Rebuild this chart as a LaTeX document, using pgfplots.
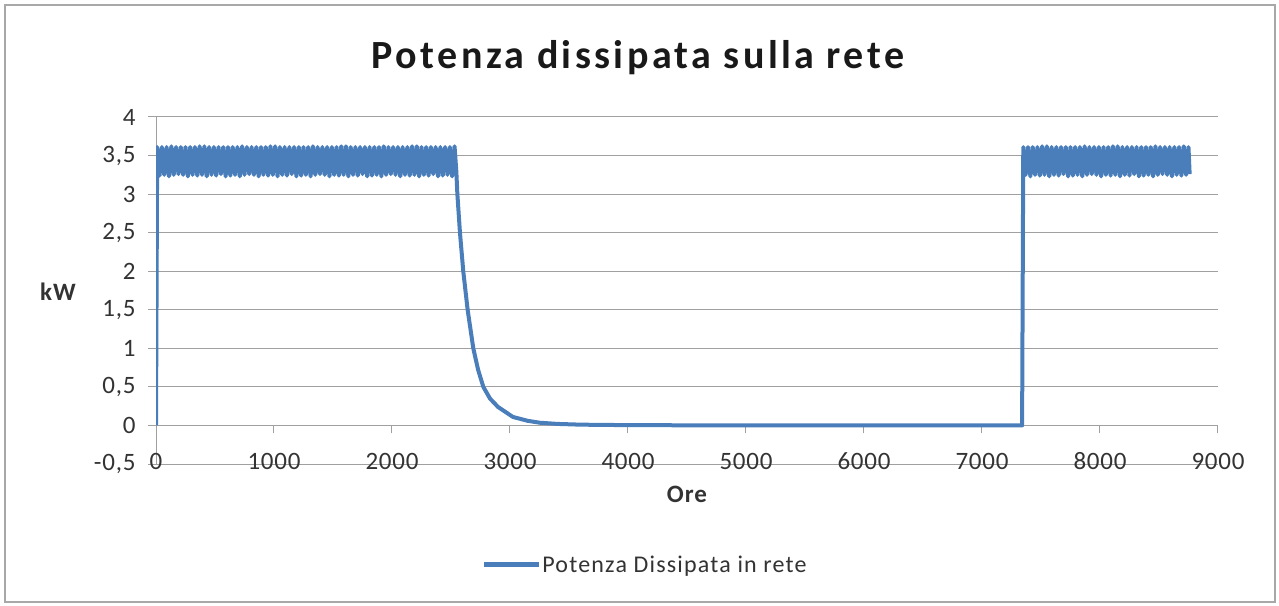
\documentclass[border=0pt]{standalone}
\usepackage{fontspec}
\setmainfont{Carlito}
\usepackage{pgfplots}
\pgfplotsset{compat=1.18}
\definecolor{serie}{HTML}{4A7EBB}
\definecolor{griglia}{HTML}{A0A0A0}
\definecolor{cornice}{HTML}{A8A8A8}

\begin{document}
\begin{tikzpicture}
  \useasboundingbox (0,0) rectangle (1279pt,605pt);
  \draw[cornice, line width=1.5pt] (5pt,3pt) rectangle (1275pt,600pt);

  \begin{axis}[
    at={(156pt,141pt)}, anchor=south west,
    scale only axis, width=1062pt, height=347pt,
    xmin=0, xmax=9000, ymin=-0.5, ymax=4,
    axis lines=middle,
    axis line style={-, griglia, line width=1pt},
    hide obscured x ticks=false, hide obscured y ticks=false,
    xtick={0,1000,...,9000},
    ytick={-0.5,0,0.5,1,1.5,2,2.5,3,3.5,4},
    ymajorgrids, grid style={griglia, line width=1pt},
    tick align=outside, major tick length=8pt,
    tick style={griglia, line width=1pt},
    scaled x ticks=false,
    /pgf/number format/.cd, use comma, 1000 sep={}, assume math mode=true,
    /pgfplots/.cd,
    ticklabel style={font=\fontsize{25}{29}\selectfont\addfontfeature{LetterSpace=3}, text=black!80},
    xticklabel style={anchor=center, yshift=-28pt},
    yticklabel style={xshift=-9pt},
    legend style={at={(0.46,-0.291)}, anchor=center, draw=none, fill=none,
      font=\fontsize{24}{28}\selectfont\addfontfeature{LetterSpace=5}, text=black!80,
      nodes={inner sep=1pt}},
    legend image code/.code={\draw[#1, line width=5pt] (0pt,0pt) -- (55pt,0pt);},
  ]
    \addplot[serie, line width=4pt, line join=round, no marks] coordinates {
      (0,0)
      (10,3.61) (30,3.24) (50,3.61) (70,3.25) (90,3.61) (110,3.23) (130,3.62) (150,3.25) (170,3.61) (190,3.26)
      (210,3.61) (230,3.25) (250,3.61) (270,3.23) (290,3.61) (310,3.25) (330,3.61) (350,3.24) (370,3.62) (390,3.25)
      (410,3.62) (430,3.23) (450,3.61) (470,3.25) (490,3.61) (510,3.24) (530,3.61) (550,3.26) (570,3.61) (590,3.23)
      (610,3.61) (630,3.24) (650,3.61) (670,3.25) (690,3.61) (710,3.23) (730,3.62) (750,3.25) (770,3.61) (790,3.26)
      (810,3.61) (830,3.25) (850,3.61) (870,3.23) (890,3.61) (910,3.25) (930,3.61) (950,3.24) (970,3.62) (990,3.25)
      (1010,3.62) (1030,3.23) (1050,3.61) (1070,3.25) (1090,3.61) (1110,3.24) (1130,3.61) (1150,3.26) (1170,3.61) (1190,3.23)
      (1210,3.61) (1230,3.24) (1250,3.61) (1270,3.25) (1290,3.61) (1310,3.23) (1330,3.62) (1350,3.25) (1370,3.61) (1390,3.26)
      (1410,3.61) (1430,3.25) (1450,3.61) (1470,3.23) (1490,3.61) (1510,3.25) (1530,3.61) (1550,3.24) (1570,3.62) (1590,3.25)
      (1610,3.62) (1630,3.23) (1650,3.61) (1670,3.25) (1690,3.61) (1710,3.24) (1730,3.61) (1750,3.26) (1770,3.61) (1790,3.23)
      (1810,3.61) (1830,3.24) (1850,3.61) (1870,3.25) (1890,3.61) (1910,3.23) (1930,3.62) (1950,3.25) (1970,3.61) (1990,3.26)
      (2010,3.61) (2030,3.25) (2050,3.61) (2070,3.23) (2090,3.61) (2110,3.25) (2130,3.61) (2150,3.24) (2170,3.62) (2190,3.25)
      (2210,3.62) (2230,3.23) (2250,3.61) (2270,3.25) (2290,3.61) (2310,3.24) (2330,3.61) (2350,3.26) (2370,3.61) (2390,3.23)
      (2410,3.61) (2430,3.24) (2450,3.61) (2470,3.25) (2490,3.61) (2510,3.23) (2530,3.62)
      (2545,3.30) (2554,3.00) (2576,2.50) (2604,2.00) (2641,1.50) (2689,1.00) (2730,0.72)
      (2774,0.50) (2830,0.35) (2898,0.24) (3025,0.11) (3150,0.06) (3254,0.035) (3400,0.02)
      (3600,0.01) (4000,0.004) (5000,0) (7340,0)
      (7350,3.61) (7370,3.25) (7390,3.61) (7410,3.23) (7430,3.61) (7450,3.25) (7470,3.61) (7490,3.24) (7510,3.62) (7530,3.25)
      (7550,3.62) (7570,3.23) (7590,3.61) (7610,3.25) (7630,3.61) (7650,3.24) (7670,3.61) (7690,3.26) (7710,3.61) (7730,3.23)
      (7750,3.61) (7770,3.24) (7790,3.61) (7810,3.25) (7830,3.61) (7850,3.23) (7870,3.62) (7890,3.25) (7910,3.61) (7930,3.26)
      (7950,3.61) (7970,3.25) (7990,3.61) (8010,3.23) (8030,3.61) (8050,3.25) (8070,3.61) (8090,3.24) (8110,3.62) (8130,3.25)
      (8150,3.62) (8170,3.23) (8190,3.61) (8210,3.25) (8230,3.61) (8250,3.24) (8270,3.61) (8290,3.26) (8310,3.61) (8330,3.23)
      (8350,3.61) (8370,3.24) (8390,3.61) (8410,3.25) (8430,3.61) (8450,3.23) (8470,3.62) (8490,3.25) (8510,3.61) (8530,3.26)
      (8550,3.61) (8570,3.25) (8590,3.61) (8610,3.23) (8630,3.61) (8650,3.25) (8670,3.61) (8690,3.24) (8710,3.62) (8730,3.25)
      (8750,3.61) (8760,3.26)
    };
    \addlegendentry{Potenza Dissipata in rete}
  \end{axis}

  \node[font=\fontsize{40}{46}\selectfont\bfseries\addfontfeature{LetterSpace=8.5}, text=black!90] at (638pt,547pt) {Potenza dissipata sulla rete};
  \node[font=\fontsize{25}{29}\selectfont\bfseries\addfontfeature{LetterSpace=4}, text=black!80] at (687pt,111pt) {Ore};
  \node[font=\fontsize{25}{29}\selectfont\bfseries\addfontfeature{LetterSpace=4}, text=black!80] at (58pt,313pt) {kW};
\end{tikzpicture}
\end{document}
